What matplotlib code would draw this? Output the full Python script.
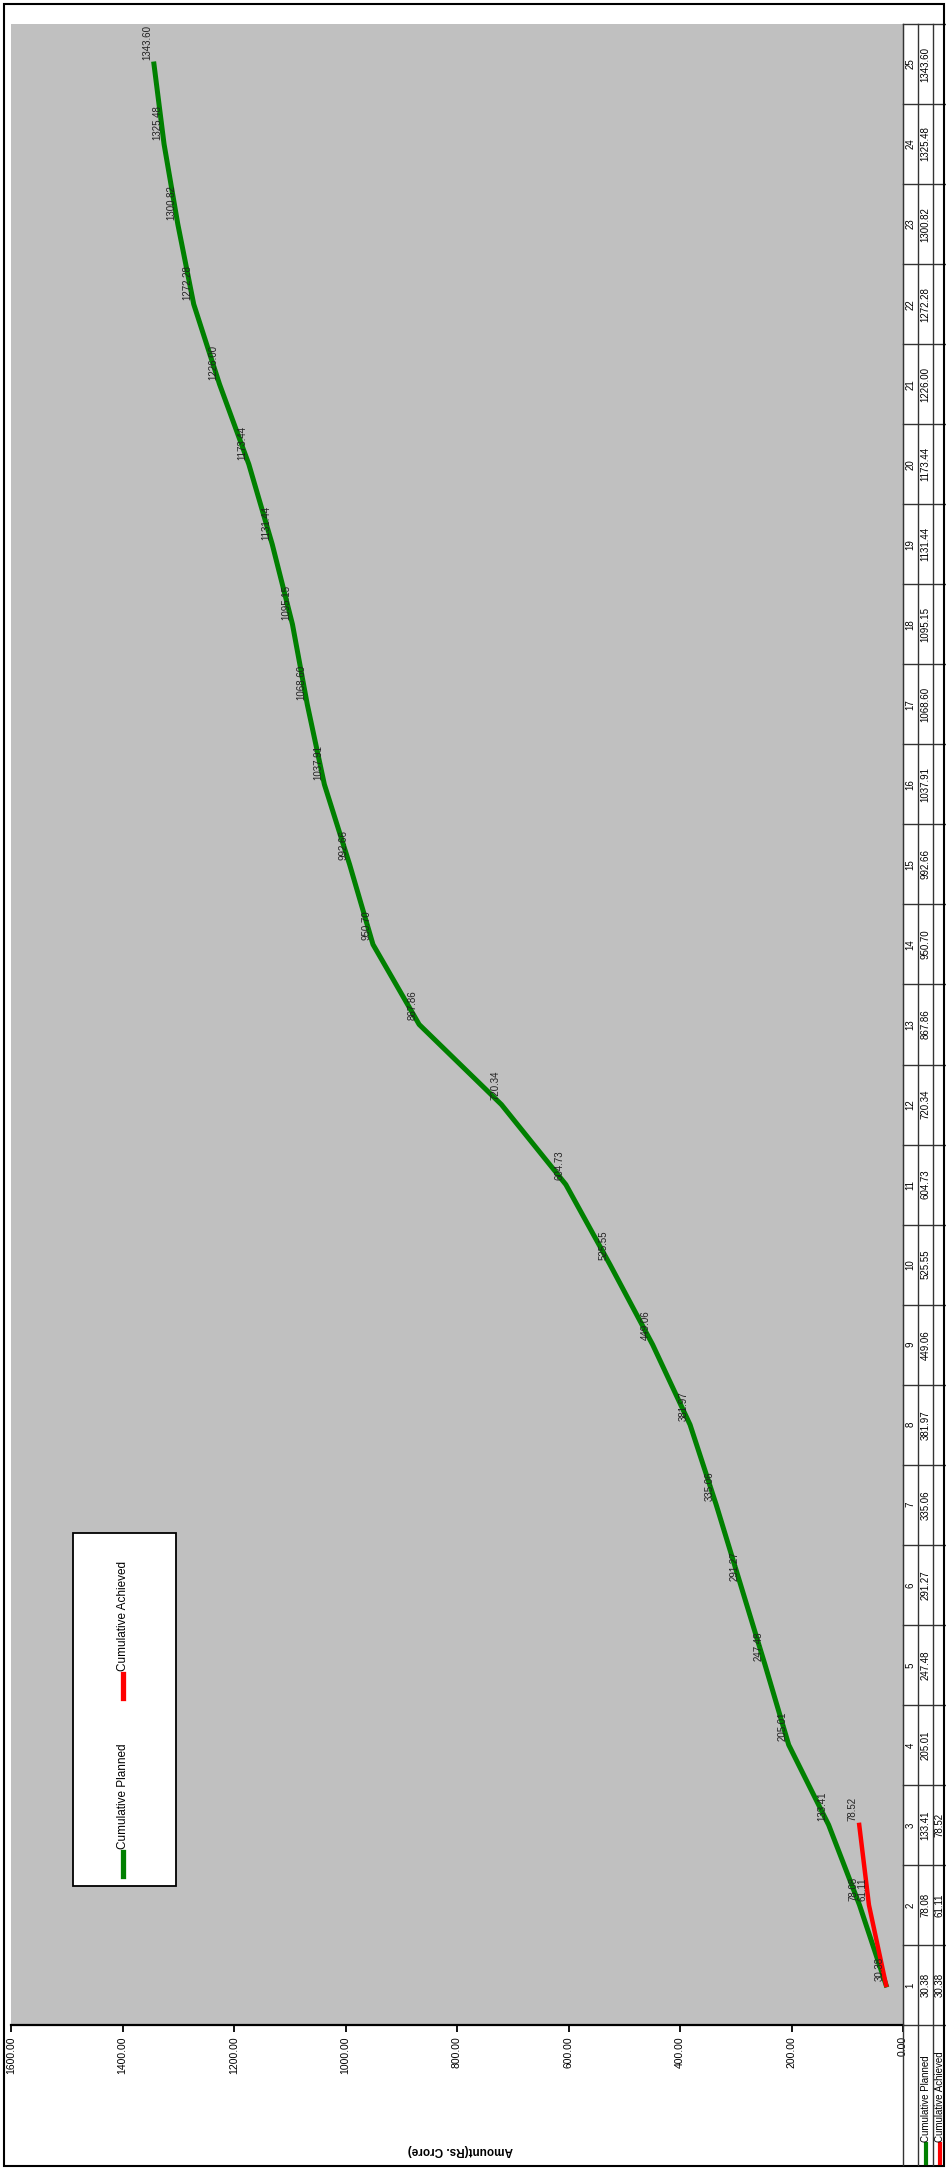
import matplotlib.pyplot as plt
import matplotlib.transforms as mtransforms
from matplotlib.patches import Rectangle

plt.rcParams['font.family'] = ['Liberation Sans', 'DejaVu Sans']

# chart data (the chart is drawn turned 90 degrees, as in the scan)
months = list(range(1, 26))
planned = [30.38, 78.08, 133.41, 205.01, 247.48, 291.27, 335.06, 381.97, 449.06, 525.55,
           604.73, 720.34, 867.86, 950.70, 992.66, 1037.91, 1068.60, 1095.15, 1131.44,
           1173.44, 1226.00, 1272.28, 1300.82, 1325.48, 1343.60]
achieved = [30.38, 61.11, 78.52]
value_ticks = [0, 200, 400, 600, 800, 1000, 1200, 1400, 1600]
series_names = ["Cumulative Planned", "Cumulative Achieved"]
series_colors = ["#008000", "#ff0000"]
axis_title = "Amount(Rs. Crore)"

W, H = 946, 2176
fig = plt.figure(figsize=(W / 100, H / 100), dpi=100)


def fx(px):
    return px / W


def fy(py):
    return 1 - py / H


# 1. plot area
ax = fig.add_axes([fx(11), fy(2025), fx(903) - fx(11), fy(24) - fy(2025)])
ax.set_facecolor("#c0c0c0")
ax.plot(planned, months, color=series_colors[0], lw=3.6)
ax.plot(achieved, months[:len(achieved)], color=series_colors[1], lw=3.2)
ax.set_xlim(1600, 0)
ax.set_ylim(0.5, 25.5)
ax.set_xticks(value_ticks)
ax.set_xticklabels([f"{v:.2f}" for v in value_ticks], rotation=90, fontsize=7.5)
ax.tick_params(axis="x", direction="out", length=5, width=1.3, pad=3)
ax.set_yticks([])
ax.spines["top"].set_visible(False)
ax.spines["left"].set_visible(False)
ax.spines["bottom"].set_linewidth(1.6)
ax.spines["right"].set_color("#555555")

# 2. data labels
for v, m in zip(planned, months):
    ax.annotate(f"{v:.2f}", (v, m), xytext=(-1, 3), textcoords="offset points",
                rotation=90, ha="right", va="bottom", fontsize=7, color="#222222")
for v, m in zip(achieved[1:], months[1:len(achieved)]):
    ax.annotate(f"{v:.2f}", (v, m), xytext=(-1, 3), textcoords="offset points",
                rotation=90, ha="right", va="bottom", fontsize=7, color="#222222")

# 3. value axis title (upside down after the turn)
fig.text(fx(460), fy(2150), axis_title, rotation=180, ha="center", va="center",
         fontsize=8.5, fontweight="bold")

# 4. data table on the right
btf = mtransforms.blended_transform_factory(fig.transFigure, ax.transData)
col_x = [903, 918, 933, 946]
for x in col_x[:-1]:
    fig.add_artist(plt.Line2D([fx(x), fx(x)], [fy(2165), fy(24)], color="#333333", lw=1.0))
for b in [m + 0.5 for m in months] + [0.5]:
    ax.plot([fx(903), fx(946)], [b, b], transform=btf, color="#333333", lw=1.0, clip_on=False)

for m in months:
    ax.text(fx(910.5), m, str(m), transform=btf, rotation=90, ha="center", va="center",
            fontsize=7)
for v, m in zip(planned, months):
    ax.text(fx(925.5), m, f"{v:.2f}", transform=btf, rotation=90, ha="center", va="center",
            fontsize=7)
for v, m in zip(achieved, months):
    ax.text(fx(939.5), m, f"{v:.2f}", transform=btf, rotation=90, ha="center", va="center",
            fontsize=7)

# row headers under the plot
for x, name, col in zip([925.5, 939.5], series_names, series_colors):
    fig.add_artist(plt.Line2D([fx(x), fx(x)], [fy(2163), fy(2144)], color=col, lw=3))
    fig.text(fx(x), fy(2142), name, rotation=90, ha="center", va="bottom", fontsize=7)

# 5. legend box
fig.add_artist(Rectangle((fx(73), fy(1886)), fx(176) - fx(73), fy(1533) - fy(1886),
                         transform=fig.transFigure, facecolor="white", edgecolor="black", lw=1.3))
for y0, name, col in zip([1876, 1698], series_names, series_colors):
    fig.add_artist(plt.Line2D([fx(123), fx(123)], [fy(y0), fy(y0 - 24)], color=col, lw=3.8))
    fig.text(fx(123), fy(y0 - 27), name, rotation=90, ha="center", va="bottom", fontsize=8.5)

# 6. outer frame
fig.add_artist(Rectangle((fx(4), fy(2166)), fx(944) - fx(4), fy(4) - fy(2166),
                         transform=fig.transFigure, facecolor="none", edgecolor="black", lw=1.5))

fig.savefig("out.png", dpi=100)
